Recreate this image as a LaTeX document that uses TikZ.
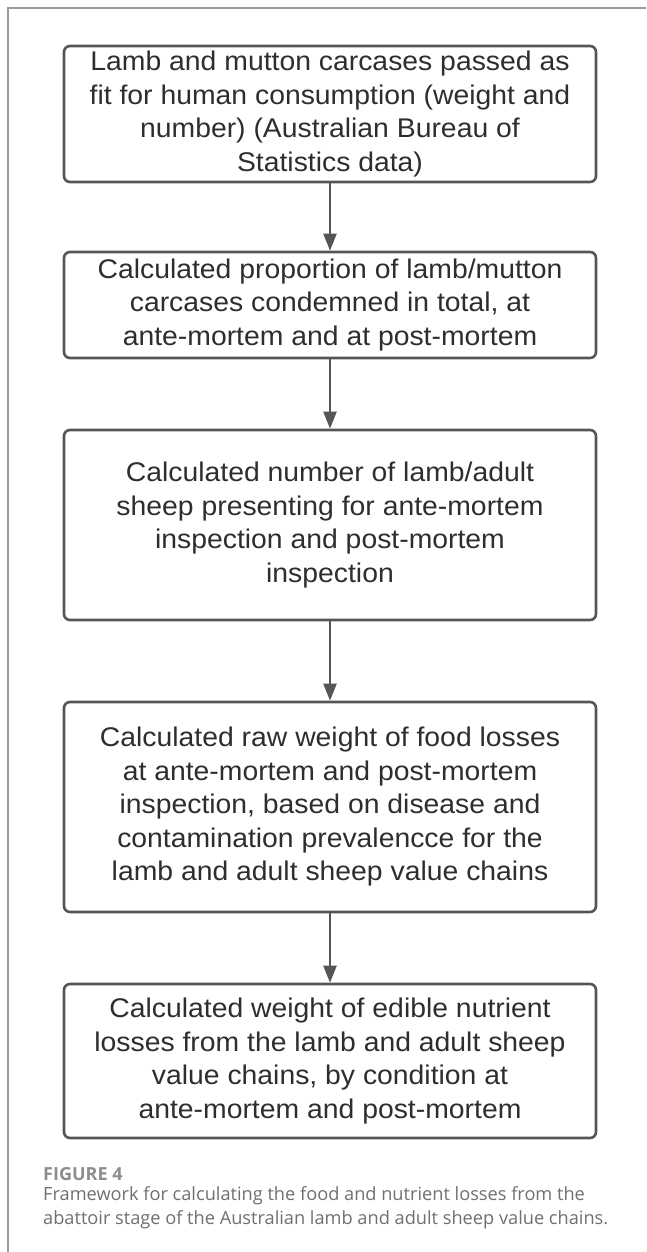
\documentclass[tikz,border=0pt]{standalone}
\usepackage{fontspec}
\setmainfont{Liberation Sans}
\newfontfamily\stepfont[FakeStretch=1.05]{Liberation Sans}
\newfontfamily\capfont{Open Sans}
\usetikzlibrary{arrows.meta}
\definecolor{boxline}{HTML}{555555}
\definecolor{boxtext}{HTML}{2E2E2E}
\definecolor{framegray}{HTML}{9A9A9A}
\definecolor{capgray}{HTML}{707070}
\tikzset{
  stepbox/.style={draw=boxline, line width=2.6pt, rounded corners=6pt,
    minimum width=532pt, align=center, text=boxtext, inner sep=0pt,
    font=\stepfont\fontsize{27}{33.5}\selectfont},
  flow/.style={draw=boxline, line width=2.2pt,
    -{Triangle[width=13pt,length=17pt]}},
}
\begin{document}
\begin{tikzpicture}[x=1pt,y=-1pt]
\useasboundingbox (0,0) rectangle (646,1252);
\fill[white] (0,0) rectangle (646,1252);
% page frame
\draw[framegray, line width=1.4pt] (646,8) -- (8,8) -- (8,1252);

% steps of the framework
\node[stepbox, minimum height=136pt] (s1) at (330,114)
  {Lamb and mutton carcases passed as\\fit for human consumption (weight and\\number) (Australian Bureau of\\Statistics data)};
\node[stepbox, minimum height=106pt] (s2) at (330,305)
  {Calculated proportion of lamb/mutton\\carcases condemned in total, at\\ante-mortem and at post-mortem};
\node[stepbox, minimum height=190pt] (s3) at (330,525)
  {Calculated number of lamb/adult\\sheep presenting for ante-mortem\\inspection and post-mortem\\inspection};
\node[stepbox, minimum height=210pt] (s4) at (330,807)
  {Calculated raw weight of food losses\\at ante-mortem and post-mortem\\inspection, based on disease and\\contamination prevalencce for the\\lamb and adult sheep value chains};
\node[stepbox, minimum height=154pt] (s5) at (330,1061)
  {Calculated weight of edible nutrient\\losses from the lamb and adult sheep\\value chains, by condition at\\ante-mortem and post-mortem};

\draw[flow] (s1) -- (s2);
\draw[flow] (s2) -- (s3);
\draw[flow] (s3) -- (s4);
\draw[flow] (s4) -- (s5);

% caption
\node[anchor=base west, inner sep=0pt, text=capgray!80,
  font=\capfont\fontsize{18}{20}\selectfont\bfseries] (fig) at (43,1180) {FIGURE 4};
\node[anchor=north west, inner sep=0pt, text=capgray, align=left,
  font=\capfont\fontsize{18.2}{24.5}\selectfont] (cap) at (43,1186)
  {Framework for calculating the food and nutrient losses from the\\abattoir stage of the Australian lamb and adult sheep value chains.};
\end{tikzpicture}
\end{document}
